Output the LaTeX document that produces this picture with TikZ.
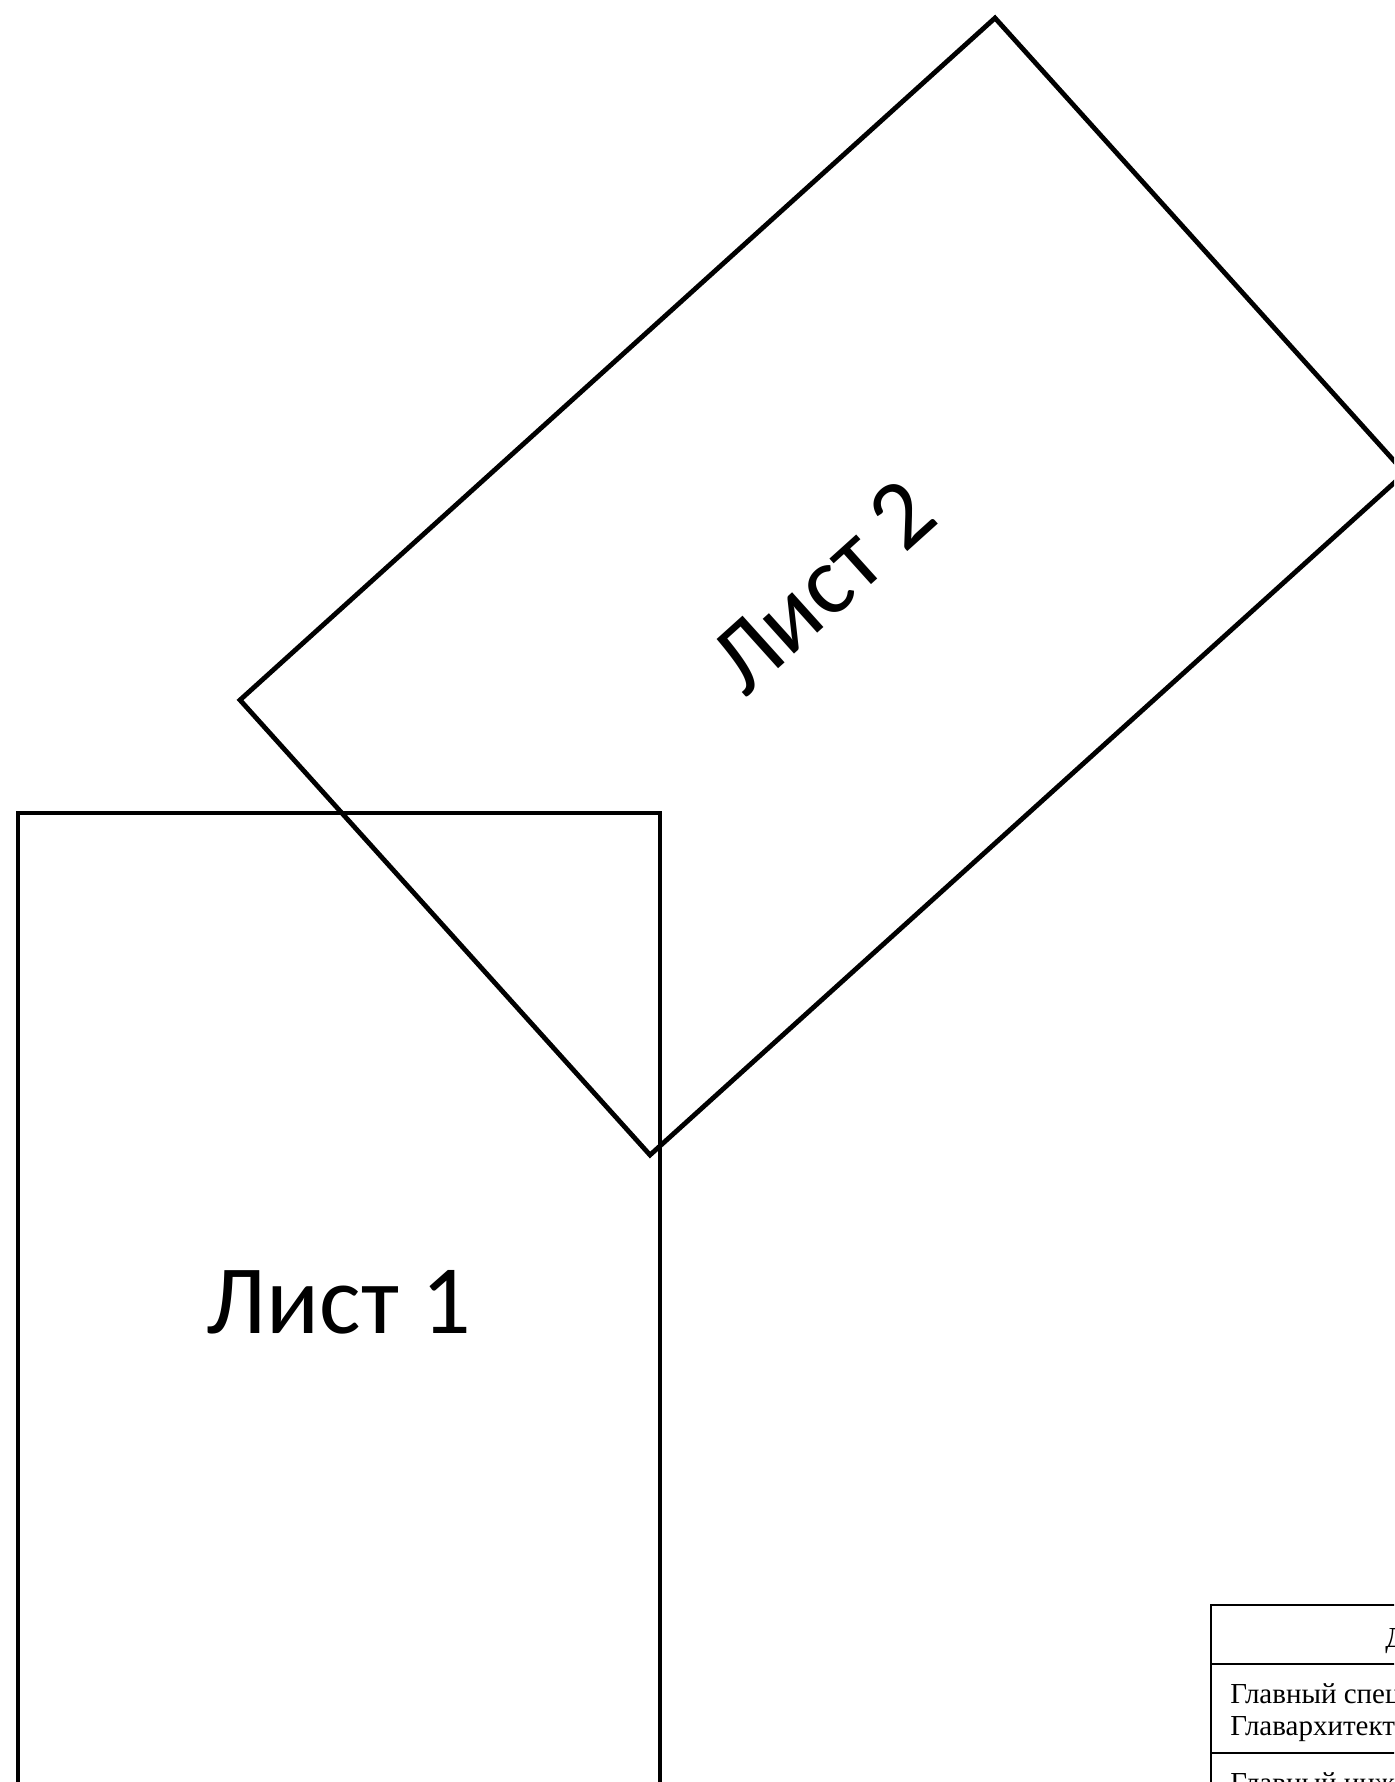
\documentclass[tikz,border=0pt]{standalone}
\usepackage{fontspec}
\setmainfont{Liberation Serif}
\newfontfamily\sheetfont{Carlito}
\usepackage{tikz}
\usetikzlibrary{calc,positioning}
\tikzset{>=latex}
\tikzset{
  sheet/.style={draw=black, line width=2.4pt},
  sheetlabel/.style={font=\sheetfont\fontsize{49}{59}\selectfont, inner sep=0pt},
  tbl/.style={draw=black, line width=1.35pt},
  tbltext/.style={font=\fontsize{14.5}{16}\selectfont, inner sep=0pt, anchor=base west}
}

\begin{document}
\begin{tikzpicture}[x=0.5pt, y=-0.5pt]
\useasboundingbox (0,0) rectangle (1394,1782);
\clip (0,0) rectangle (1394,1782);
\begin{scope}
\draw[sheet] (18,813) rectangle (660,1905);
\node[sheetlabel] (list1) at (339,1302) {Лист 1};
\end{scope}
\begin{scope}
\draw[sheet] (995,18) -- (1405,473) -- (650,1155) -- (240,700) -- cycle;
\node[sheetlabel, rotate=42] (list2) at (822.5,586.5) {Лист 2};
\end{scope}
\begin{scope}
\draw[tbl] (1211,1605) rectangle (1600,1900);
\draw[tbl] (1211,1664) -- (1600,1664);
\draw[tbl] (1211,1753) -- (1600,1753);
\node[tbltext] (head) at (1385,1647) {Должность};
\node[tbltext] (chief) at (1230,1703) {Главный специалист};
\node[tbltext] (chiefdept) at (1230,1735) {Главархитектуры};
\node[tbltext] (engineer) at (1230,1792) {Главный инженер};
\end{scope}
\end{tikzpicture}
\end{document}
